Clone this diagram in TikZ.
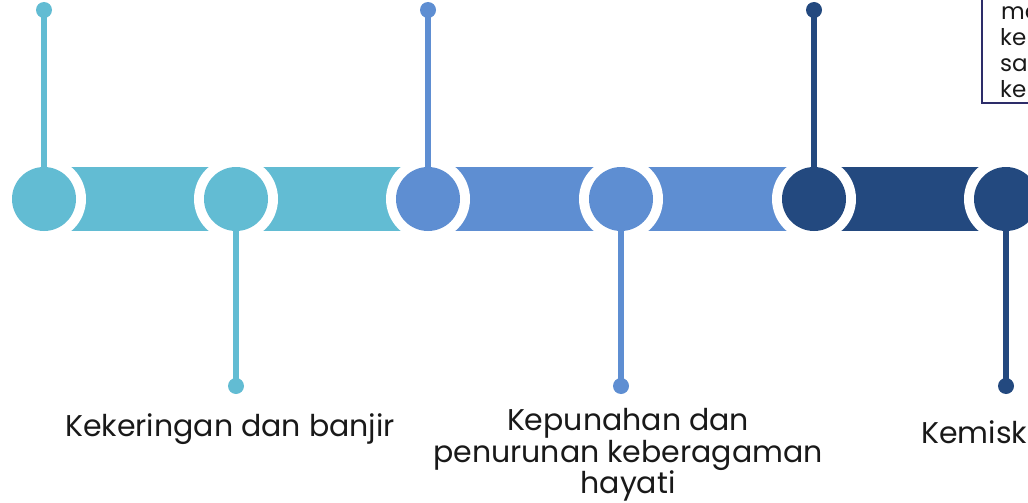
\documentclass[tikz,border=0pt]{standalone}
\usepackage{fontspec}
\setmainfont{Poppins}
\usetikzlibrary{calc}
\definecolor{colL}{RGB}{98,188,211}
\definecolor{colM}{RGB}{94,142,210}
\definecolor{colD}{RGB}{35,73,127}
\definecolor{colBox}{RGB}{45,45,105}
\definecolor{colTxt}{RGB}{25,25,25}
\begin{document}
\begin{tikzpicture}[x=1pt,y=-1pt,
  halo/.style={circle,fill=white,minimum size=84pt,inner sep=0pt},
  bead/.style={circle,fill=#1,minimum size=64pt,inner sep=0pt},
  tipdot/.style={circle,fill=#1,minimum size=16pt,inner sep=0pt},
  stem/.style={draw=#1,line width=5.5pt},
  lbl/.style={font=\fontsize{30}{32}\selectfont,text=colTxt,align=center,inner sep=0pt},
  boxtxt/.style={font=\fontsize{23}{26}\selectfont,text=colTxt,inner sep=0pt,anchor=base west}]
\useasboundingbox (0,0) rectangle (1028,503);
% centre points
\coordinate (p1) at (44,199);
\coordinate (p2) at (236,199);
\coordinate (p3) at (428,199);
\coordinate (p4) at (621,199);
\coordinate (p5) at (814,199);
\coordinate (p6) at (1006,199);
% bands
\fill[colL] ($(p1)+(0,-32)$) rectangle ($(p2)+(0,32)$);
\fill[colL] ($(p2)+(0,-32)$) rectangle ($(p3)+(0,32)$);
\fill[colM] ($(p3)+(0,-32)$) rectangle ($(p4)+(0,32)$);
\fill[colM] ($(p4)+(0,-32)$) rectangle ($(p5)+(0,32)$);
\fill[colD] ($(p5)+(0,-32)$) rectangle ($(p6)+(0,32)$);
% halos
\foreach \i in {1,...,6} \node[halo] (h\i) at (p\i) {};
% beads
\node[bead=colL] (c1) at (p1) {};
\node[bead=colL] (c2) at (p2) {};
\node[bead=colM] (c3) at (p3) {};
\node[bead=colM] (c4) at (p4) {};
\node[bead=colD] (c5) at (p5) {};
\node[bead=colD] (c6) at (p6) {};
% end dots
\node[tipdot=colL] (d1) at (44,10) {};
\node[tipdot=colL] (d2) at (236,386) {};
\node[tipdot=colM] (d3) at (428,10) {};
\node[tipdot=colM] (d4) at (621,386) {};
\node[tipdot=colD] (d5) at (814,10) {};
\node[tipdot=colD] (d6) at (1006,386) {};
% stems
\draw[stem=colL] (c1.north) -- (d1.center);
\draw[stem=colL] (c2.south) -- (d2.center);
\draw[stem=colM] (c3.north) -- (d3.center);
\draw[stem=colM] (c4.south) -- (d4.center);
\draw[stem=colD] (c5.north) -- (d5.center);
\draw[stem=colD] (c6.south) -- (d6.center);
% labels
\node[lbl,anchor=base] (t1) at (230,436) {Kekeringan dan banjir};
\node[lbl,anchor=base] (t2a) at (628,430) {Kepunahan dan};
\node[lbl,anchor=base] (t2b) at (628,462) {penurunan keberagaman};
\node[lbl,anchor=base] (t2c) at (628,493) {hayati};
\node[lbl,anchor=base west] (t3) at (921,443) {Kemisk};
% box top right
\draw[colBox,line width=2pt] (1040,-10) -- (981.5,-10) -- (981.5,103) -- (1040,103);
\node[boxtxt] (b1) at (1001,20) {ma};
\node[boxtxt] (b2) at (1000,46) {ke};
\node[boxtxt] (b3) at (1000,72) {sa};
\node[boxtxt] (b4) at (1000,97) {ke};
\end{tikzpicture}
\end{document}
